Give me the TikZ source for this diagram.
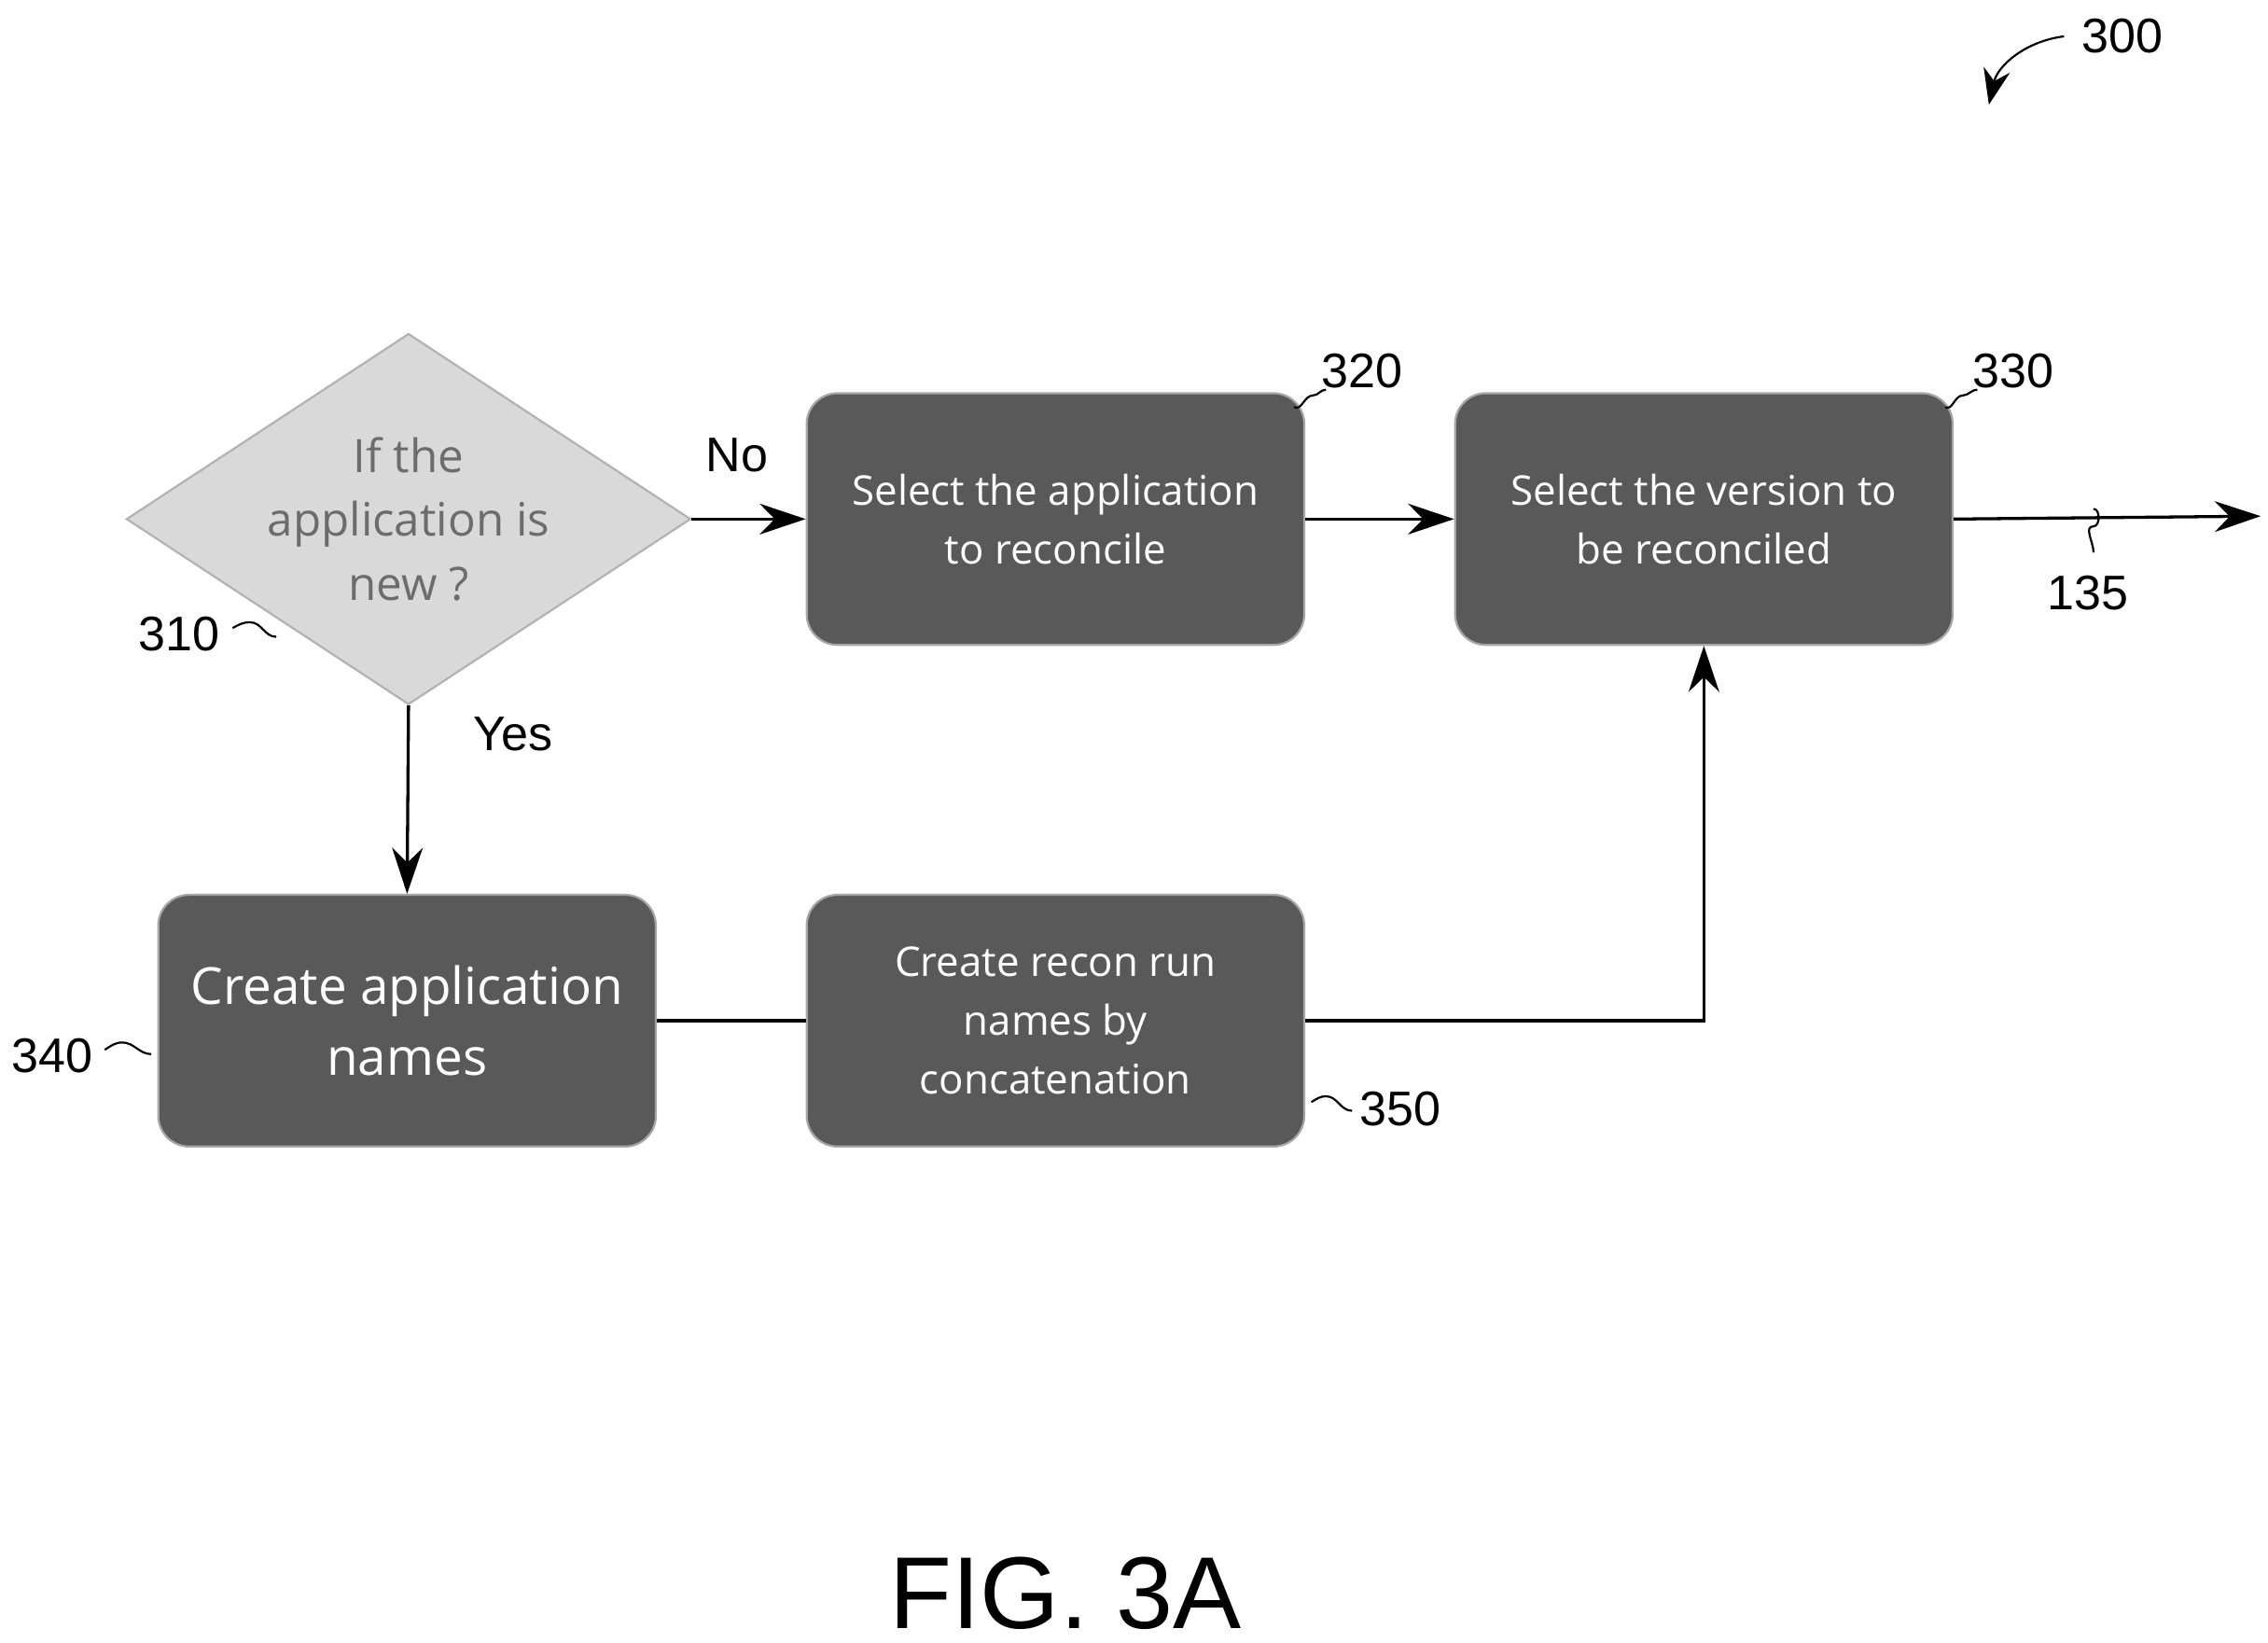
\documentclass[tikz,border=0pt]{standalone}
\usepackage{fontspec}
\setmainfont{Liberation Sans}
\newfontfamily\boxfont{Open Sans}
\usetikzlibrary{arrows.meta}
\usetikzlibrary{shapes.geometric}
\usetikzlibrary{positioning}
\tikzset{every step/.style={ % dark process boxes
           draw=gray!70, fill=black!65, rounded corners=6pt,
           text=white, font=\boxfont\fontsize{8}{11.5}\selectfont,
           minimum width=3.42cm, minimum height=1.73cm, align=center},
         ref/.style={font=\fontsize{9.5}{11}\selectfont},
         squig/.style={thin},
         flow/.style={draw, -{Stealth[length=9pt,width=6pt]}, semithick}}
\begin{document}
\begin{tikzpicture}[x=0.01cm,y=-0.01cm]
\useasboundingbox (0,0) rectangle (1560,1130);

\node[diamond, draw=gray!60, fill=gray!30, inner sep=0pt,
      minimum width=3.88cm, minimum height=2.55cm] (dec) at (281,357) {};
\node[text=gray!85!black, align=center,
      font=\boxfont\fontsize{9}{12.5}\selectfont] (dectext) at (dec) {If the\\application is\\new ?};
\node[every step] (sel) at (726,357) {Select the application\\to reconcile};
\node[every step] (ver) at (1172,357) {Select the version to\\be reconciled};
\node[every step, font=\boxfont\fontsize{10}{14}\selectfont] (app) at (280,702) {Create application\\names};
\node[every step] (run) at (726,702) {Create recon run\\names by\\concatenation};
\coordinate (out) at (1555,355);

\path[flow] (dec.east) -- (sel.west);
\path[flow] (sel) -- (ver);
\path[flow] (ver.east) -- (out);
\path[flow] (dec.south) -- (app.north);
\draw[semithick] (app) -- (run);
\path[flow] (run.east) -| (ver.south);

\node[ref] at (507,313) {No};
\node[ref] at (353,505) {Yes};

% reference numerals
\node[ref] (n300) at (1460,25) {300};
\draw[-{Stealth[length=7pt]}] (n300.west) to[bend right=35] (1368,72);
\node[ref] at (937,255) {320};
\draw[squig] (890,280) to[out=-30,in=180] (903,272) to[out=0,in=180] (912,268);
\node[ref] at (1385,255) {330};
\draw[squig] (1338,280) to[out=-30,in=180] (1350,272) to[out=0,in=180] (1360,268);
\node[ref] at (123,436) {310};
\draw[squig] (160,432) to[out=30,in=180] (172,428) to[out=0,in=180] (190,438);
\node[ref] at (36,726) {340};
\draw[squig] (72,722) to[out=30,in=180] (84,717) to[out=0,in=180] (104,725);
\node[ref] at (963,763) {350};
\draw[squig] (902,758) to[out=30,in=180] (912,754) to[out=0,in=180] (930,764);
\node[ref] at (1436,408) {135};
\draw[squig] (1440,350) to[out=0,in=0] (1440,362) to[out=180,in=90] (1440,380);

\node[font=\fontsize{20}{22}\selectfont] (fig) at (733,1096) {FIG. 3A};
\end{tikzpicture}
\end{document}
